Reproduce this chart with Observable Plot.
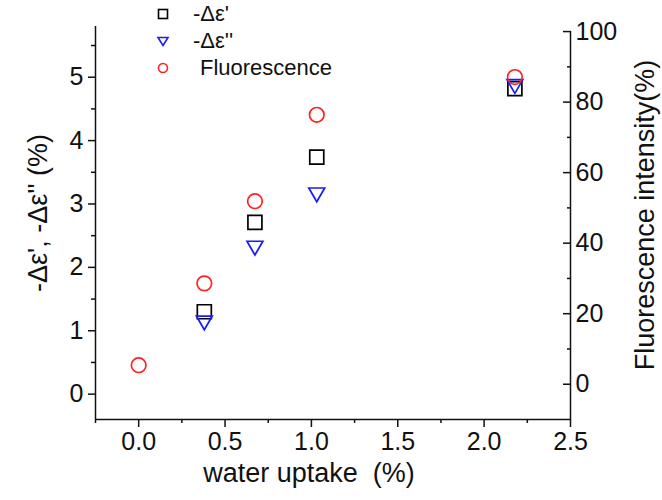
<!DOCTYPE html>
<html>
<head>
<meta charset="utf-8">
<script src="https://cdn.jsdelivr.net/npm/d3@7"></script>
<script src="https://cdn.jsdelivr.net/npm/@observablehq/plot@0.6"></script>
<style>
  html, body { margin: 0; padding: 0; background: #fff; }
  #wrap { position: relative; width: 662px; height: 500px; font-family: "Liberation Sans", Arial, sans-serif; }
  #legend { position: absolute; left: 152px; top: 0px; font-size: 22px; color: #111; }
  #legend .row { position: relative; height: 27px; display: flex; align-items: center; }
  #legend svg { width: 22px; height: 22px; margin-right: 19px; }
</style>
</head>
<body>
<div id="wrap"><div id="chart"></div>
  <div id="legend"></div>
</div>
<script>
// ---- data ----
const waterUptake  = [0.0, 0.38, 0.673, 1.031, 2.178];          // water uptake (%)
const dEpsReal     = [null, 1.30, 2.71, 3.74, 4.82];            // -Δε' (%)
const dEpsImag     = [null, 1.16, 2.34, 3.18, 4.89];            // -Δε'' (%)
const fluorescence = [5.4, 28.6, 51.9, 76.4, 87.1];             // Fluorescence intensity (%)

const xTicks  = [0, 0.5, 1.0, 1.5, 2.0, 2.5];
const xMinor  = [-0.25, 0.25, 0.75, 1.25, 1.75, 2.25];
const yTicks  = [0, 1, 2, 3, 4, 5];
const yMinor  = [0.5, 1.5, 2.5, 3.5, 4.5, 5.5];
const rTicks  = [0, 20, 40, 60, 80, 100];
const rMinor  = [10, 30, 50, 70, 90];

const xDomain = [-0.25, 2.5];
const yDomain = [-0.4, 5.8];
const rDomain = [-10, 100];

const seriesNames = ["-Δε'", "-Δε''", "Fluorescence"];

// right axis values mapped into the left axis units
const r2l = d3.scaleLinear(rDomain, [-0.4, 5.72]);

const rows = waterUptake.map((w, i) => ({
  w, re: dEpsReal[i], im: dEpsImag[i], fl: r2l(fluorescence[i])
}));

const font = "Liberation Sans, Arial, sans-serif";
const tickFont = 25;
const labelFont = 27;

const chart = Plot.plot({
  width: 662,
  height: 500,
  marginLeft: 95,
  marginRight: 92,
  marginTop: 26,
  marginBottom: 81,
  style: { fontFamily: font, background: "white", color: "#111" },
  x: { domain: xDomain, label: null },
  y: { domain: yDomain, label: null },
  marks: [
    // axis lines
    Plot.ruleX([xDomain[0]], { y1: yDomain[0], y2: yDomain[1], stroke: "#111", strokeWidth: 1.5 }),
    Plot.ruleX([xDomain[1]], { y1: yDomain[0], y2: r2l(rDomain[1]), stroke: "#111", strokeWidth: 1.5 }),
    Plot.ruleY([yDomain[0]], { x1: xDomain[0], x2: xDomain[1], stroke: "#111", strokeWidth: 1.5 }),

    // bottom axis
    Plot.axisX({ ticks: xTicks, tickSize: 8, tickPadding: 5, tickFormat: d3.format(".1f"),
                 fontSize: tickFont, label: null, strokeWidth: 1.5 }),
    Plot.axisX({ ticks: xMinor, tickSize: 4, tickFormat: () => "", label: null, strokeWidth: 1.5 }),
    Plot.text(["water uptake  (%)"], { frameAnchor: "bottom", textAnchor: "middle", dx: -24, dy: 62,
               fontSize: labelFont, fill: "#111" }),

    // left axis
    Plot.axisY({ anchor: "left", ticks: yTicks, tickSize: 7, tickPadding: 5, fontSize: tickFont,
                 tickFormat: d3.format("d"), label: null, strokeWidth: 1.5 }),
    Plot.axisY({ anchor: "left", ticks: yMinor, tickSize: 4, tickFormat: () => "", label: null, strokeWidth: 1.5 }),
    Plot.text(["-Δε', -Δε'' (%)"], { frameAnchor: "left", textAnchor: "middle", dx: -57, dy: -10,
               rotate: -90, fontSize: labelFont, fill: "#111" }),

    // right axis (ticks pointing inward)
    Plot.axisY({ anchor: "right", ticks: rTicks.map(r2l), tickSize: 8, dx: -8,
                 tickFormat: () => "", label: null, strokeWidth: 1.5 }),
    Plot.axisY({ anchor: "right", ticks: rMinor.map(r2l), tickSize: 4, dx: -4,
                 tickFormat: () => "", label: null, strokeWidth: 1.5 }),
    Plot.axisY({ anchor: "right", ticks: rTicks.map(r2l), tickSize: 0, tickPadding: 5, fontSize: tickFont,
                 tickFormat: (d, i) => String(rTicks[i]), label: null }),
    Plot.text(["Fluorescence intensity(%)"], { frameAnchor: "right", textAnchor: "middle", dx: 75, dy: -8,
               rotate: -90, fontSize: labelFont, fill: "#111" }),

    // data
    Plot.dot(rows.filter(d => d.re != null), { x: "w", y: "re", symbol: "square", r: 7.9,
              stroke: "#000", strokeWidth: 1.7, fill: "none" }),
    Plot.dot(rows.filter(d => d.im != null), { x: "w", y: "im", symbol: "triangle", r: 5.9, rotate: 180,
              stroke: "#1a1aff", strokeWidth: 1.7, fill: "none" }),
    Plot.dot(rows, { x: "w", y: "fl", symbol: "circle", r: 7.3,
              stroke: "#ff2020", strokeWidth: 1.7, fill: "none" })
  ]
});
document.getElementById("chart").appendChild(chart);

// legend
const legendSymbols = [
  '<svg viewBox="-11 -11 22 22"><rect x="-4.5" y="-4.5" width="9" height="9" fill="none" stroke="#000" stroke-width="1.6"/></svg>',
  '<svg viewBox="-11 -11 22 22"><path d="M-5,-3.5L5,-3.5L0,4.5Z" fill="none" stroke="#1a1aff" stroke-width="1.6"/></svg>',
  '<svg viewBox="-11 -11 22 22"><circle r="4.5" fill="none" stroke="#ff2020" stroke-width="1.6"/></svg>'
];
const legend = document.getElementById("legend");
seriesNames.forEach((name, i) => {
  const row = document.createElement("div");
  row.className = "row";
  row.innerHTML = legendSymbols[i] + '<span' + (i === 2 ? ' style="margin-left:7px"' : '') + '>' + name + '</span>';
  legend.appendChild(row);
});
</script>
</body>
</html>
